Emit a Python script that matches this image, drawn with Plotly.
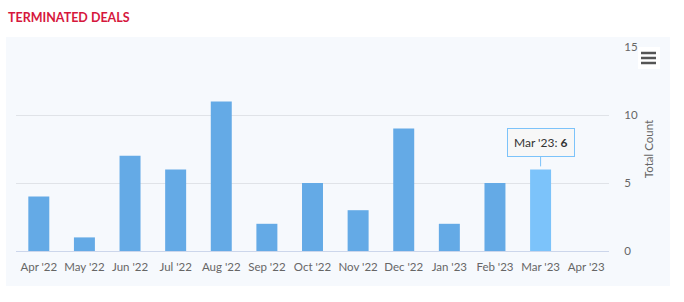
import plotly.graph_objects as go

categories = ["Apr '22", "May '22", "Jun '22", "Jul '22", "Aug '22", "Sep '22", "Oct '22",
              "Nov '22", "Dec '22", "Jan '23", "Feb '23", "Mar '23", "Apr '23"]
values = [4, 1, 7, 6, 11, 2, 5, 3, 9, 2, 5, 6, 0]
highlight = "Mar '23"
y_ticks = [0, 5, 10, 15]

W, H = 684, 302
L, R, T, B = 16, 75, 47, 51
pw, ph = W - L - R, H - T - B

def px(x):
    return (x - L) / pw

def py(y):
    return (H - B - y) / ph

colors = ["#7cc3fa" if c == highlight else "#64aae6" for c in categories]

fig = go.Figure()
fig.add_trace(go.Bar(x=categories, y=values, marker=dict(color=colors, line=dict(width=0)),
                     width=0.46, hoverinfo="skip"))

hi_val = values[categories.index(highlight)]

fig.update_layout(
    width=W, height=H,
    margin=dict(l=L, r=R, t=T, b=B),
    paper_bgcolor="white",
    plot_bgcolor="rgba(0,0,0,0)",
    showlegend=False,
    font=dict(family="Lato, 'Noto Sans', sans-serif", size=11, color="#666666"),
    xaxis=dict(type="category", categoryorder="array", categoryarray=categories,
               showgrid=False, showline=True, linecolor="#ccd6eb", linewidth=1,
               ticks="outside", ticklen=5, tickcolor="rgba(0,0,0,0)",
               tickfont=dict(size=11.5, color="#666666"), range=[-0.5, len(categories) - 0.5],
               fixedrange=True),
    yaxis=dict(side="right", range=[0, 15], tickvals=y_ticks, showgrid=True, gridcolor="#e0e3e8",
               gridwidth=1, zeroline=False, showline=False, ticks="outside", ticklen=12,
               tickcolor="rgba(0,0,0,0)", tickfont=dict(size=11.5, color="#666666"),
               title=dict(text="Total Count", font=dict(size=11.5, color="#666666"), standoff=7),
               fixedrange=True),
    shapes=[
        dict(type="rect", xref="paper", yref="paper", x0=px(6), x1=px(670), y0=py(286), y1=py(37),
             fillcolor="#f6f9fd", line=dict(width=0), layer="below"),
        dict(type="rect", xref="paper", yref="paper", x0=px(638), x1=px(660), y0=py(69), y1=py(47),
             fillcolor="white", line=dict(width=0)),
        *[dict(type="line", xref="paper", yref="paper", x0=px(641), x1=px(656), y0=py(yy), y1=py(yy),
               line=dict(color="#555555", width=2.5)) for yy in (53, 58, 63)],
    ],
    annotations=[
        dict(text="<b>TERMINATED DEALS</b>", xref="paper", yref="paper", x=px(6), y=py(17),
             xanchor="left", yanchor="middle", showarrow=False,
             font=dict(size=12.5, color="#d6173d", family="Lato, 'Noto Sans', sans-serif")),
        dict(text=f"{highlight}: <b>{hi_val}</b>", x=highlight, y=hi_val, xref="x", yref="y",
             showarrow=True, arrowhead=0, arrowwidth=1, arrowcolor="#7cc3fa", ax=0, ay=-27,
             standoff=3, bgcolor="rgba(247,247,247,0.95)", bordercolor="#7cc3fa", borderwidth=1,
             borderpad=6, font=dict(size=12, color="#333333")),
    ],
)

fig.write_html("out.html")
